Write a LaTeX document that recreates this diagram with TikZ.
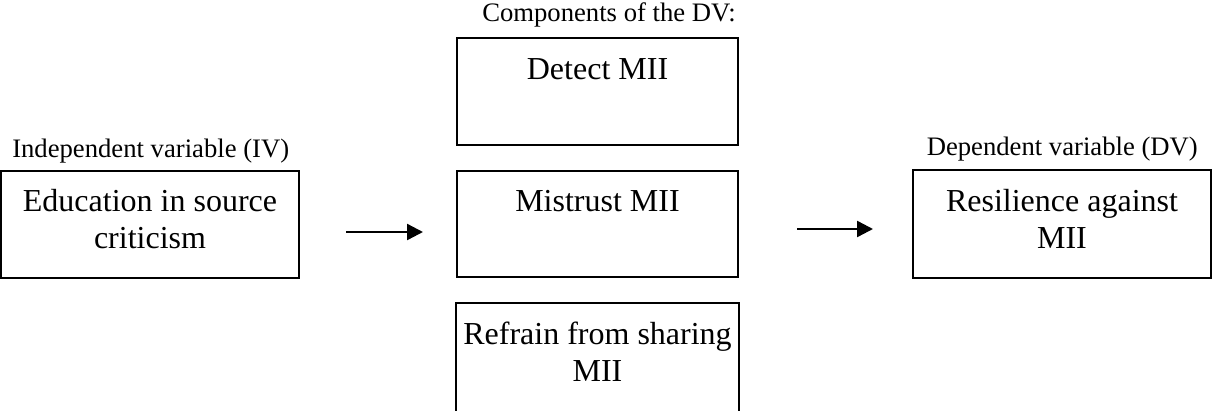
\documentclass[tikz,border=0pt]{standalone}
\usepackage{fontspec}
\setmainfont{Liberation Serif}
\usetikzlibrary{arrows.meta}

\tikzset{
  box/.style={draw, line width=1.5pt, inner sep=0pt, minimum width=210.75pt, minimum height=80.25pt},
  boxtext/.style={anchor=north, inner sep=0pt, align=center, font=\fontsize{24}{27.5}\selectfont},
  lab/.style={inner sep=0pt, font=\fontsize{20}{24}\selectfont},
  arr/.style={line width=1.8pt, -{Triangle[length=12pt,width=12pt]}}
}

\begin{document}
\begin{tikzpicture}[x=0.75pt,y=0.75pt,yscale=-1,xscale=1]
\useasboundingbox (0,0) rectangle (1212,410);

% Boxes
\node [box, minimum width=223.5pt] (edu) at (150,224.5) {};
\node [box] (detect) at (597.5,91.5) {};
\node [box, minimum height=79.5pt] (mistrust) at (597.5,224) {};
\node [box, draw=none] (refrain) at (597.5,357.5) {};
\node [box, minimum width=223.5pt, minimum height=81pt] (resil) at (1062,224) {};
% Open box (bottom runs off the page)
\draw [line width=1.5pt] (refrain.south west) -- (refrain.north west) -- (refrain.north east) -- (refrain.south east);

% Text Node
\node [boxtext] (edutxt) at (150,189) {Education in source\\criticism};
% Text Node
\node [boxtext] (detecttxt) at (597.5,58) {Detect MII};
% Text Node
\node [boxtext] (mistrusttxt) at (597.5,190) {Mistrust MII};
% Text Node
\node [boxtext] (refraintxt) at (597.5,322) {Refrain from sharing\\MII};
% Text Node
\node [boxtext] (resiltxt) at (1062,189) {Resilience against\\MII};

% Text Node
\node [lab, anchor=base west] (ivlab) at (12,157) {Independent variable (IV)};
% Text Node
\node [lab, anchor=base west] (complab) at (482,22) {Components of the DV:};
% Text Node
\node [lab, anchor=base east] (dvlab) at (1198,155) {Dependent variable (DV)};

% Connection
\coordinate (a1s) at (346,232);
\coordinate (a1e) at (423,232);
\draw [arr] (a1s) -- (a1e);
% Connection
\coordinate (a2s) at (797,229);
\coordinate (a2e) at (873,229);
\draw [arr] (a2s) -- (a2e);

\end{tikzpicture}
\end{document}
